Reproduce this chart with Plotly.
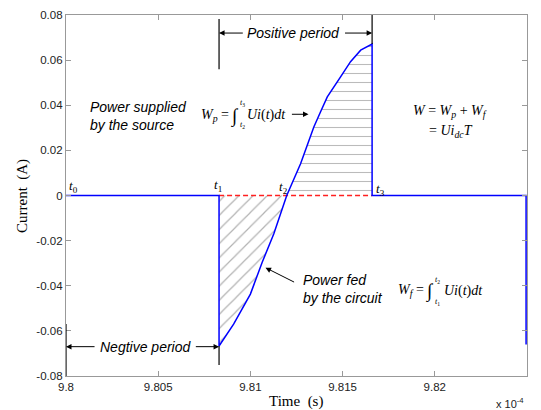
import plotly.graph_objects as go

# time axis is expressed in units of 1e-4 s
t0, t1, t2, t3, t_end = 9.800, 9.8083, 9.81197, 9.8166, 9.82495

# current during the negative half (t1 -> t2)
neg_time = [9.8083, 9.80873, 9.80909, 9.81000, 9.81064, 9.81127, 9.81172, 9.81197]
neg_current = [-0.0667, -0.0615, -0.0570, -0.0437, -0.0296, -0.0170, -0.0067, 0.0]

# current during the positive half (t2 -> t3)
pos_time = [9.81197, 9.81272, 9.81344, 9.81380, 9.81417, 9.81489, 9.81543, 9.81598, 9.8166]
pos_current = [0.0, 0.0141, 0.0304, 0.0370, 0.0437, 0.0526, 0.0593, 0.0644, 0.0671]

# complete current waveform
wave_time = [t0, t1] + neg_time + pos_time[1:] + [t3, t_end, t_end]
wave_current = [0.0, 0.0] + neg_current + pos_current[1:] + [0.0, 0.0, -0.066]

x_ticks = [9.8, 9.805, 9.81, 9.815, 9.82, 9.825]
x_ticklabels = ["9.8", "9.805", "9.81", "9.815", "9.82", "9.825"]
y_ticks = [-0.08, -0.06, -0.04, -0.02, 0, 0.02, 0.04, 0.06, 0.08]
y_ticklabels = ["-0.08", "-0.06", "-0.04", "-0.02", "0", "0.02", "0.04", "0.06", "0.08"]

fig = go.Figure()

# hatched area fed back by the circuit
fig.add_trace(go.Scatter(
    x=[t1] + neg_time, y=[0.0] + neg_current,
    mode="lines", line=dict(width=0), fill="tozeroy",
    fillcolor="rgba(0,0,0,0)",
    fillpattern=dict(shape="/", size=10, solidity=0.12,
                     fgcolor="#666666", bgcolor="rgba(0,0,0,0)"),
    hoverinfo="skip", showlegend=False))

# hatched area supplied by the source
fig.add_trace(go.Scatter(
    x=pos_time + [t3], y=pos_current + [0.0],
    mode="lines", line=dict(width=0), fill="tozeroy",
    fillcolor="rgba(0,0,0,0)",
    fillpattern=dict(shape="-", size=9, solidity=0.12,
                     fgcolor="#777777", bgcolor="rgba(0,0,0,0)"),
    hoverinfo="skip", showlegend=False))

# zero reference during conduction
fig.add_trace(go.Scatter(
    x=[t1, t3], y=[0.0, 0.0], mode="lines",
    line=dict(color="#ff2020", width=1.3, dash="5px,3px"),
    hoverinfo="skip", showlegend=False))

# the current waveform
fig.add_trace(go.Scatter(
    x=wave_time, y=wave_current, mode="lines",
    line=dict(color="#0000ff", width=1.5),
    showlegend=False))

sans = "Liberation Sans, Arial, sans-serif"
serif = "Liberation Serif, Times New Roman, serif"

annotations = []


def text(x, y, s, size=14, family=sans, xanchor="left", align="left", color="black"):
    annotations.append(dict(x=x, y=y, xref="x", yref="y", text=s, showarrow=False,
                            xanchor=xanchor, yanchor="middle", align=align,
                            font=dict(family=family, size=size, color=color)))


def arrow(x_from, y_from, x_to, y_to):
    annotations.append(dict(x=x_to, y=y_to, ax=x_from, ay=y_from, xref="x", yref="y",
                            axref="x", ayref="y", text="", showarrow=True,
                            arrowhead=2, arrowsize=1.1, arrowwidth=1,
                            arrowcolor="black", standoff=0, startstandoff=0))


# period labels
text(9.81236, 0.0720, "<i>Positive period</i>", size=14, xanchor="center")
arrow(9.80967, 0.0720, t1, 0.0720)
arrow(9.81505, 0.0720, t3, 0.0720)

text(9.80432, -0.0670, "<i>Negtive period</i>", size=14, xanchor="center")
arrow(9.80163, -0.0670, t0, -0.0670)
arrow(9.80696, -0.0670, t1, -0.0670)

# descriptions
text(9.80120, 0.0353, "<i>Power supplied<br>by the source</i>", size=14)
text(9.81277, -0.0416, "<i>Power fed<br>by the circuit</i>", size=14)
arrow(9.81245, -0.0387, 9.81082, -0.0320)

# energy integrals
text(9.80723, 0.0356, "<i>W</i><sub><i>p</i></sub> =", size=14, family=serif)
text(9.80918, 0.0352, "∫", size=19, family=serif, xanchor="center")
text(9.80935, 0.0410, "<i>t</i><sub>3</sub>", size=8, family=serif)
text(9.80935, 0.0312, "<i>t</i><sub>2</sub>", size=8, family=serif)
text(9.80973, 0.0356, "<i>Ui</i>(<i>t</i>)<i>dt</i>", size=14, family=serif)
arrow(9.81217, 0.0360, 9.81315, 0.0360)

text(9.81788, -0.0422, "<i>W</i><sub><i>f</i></sub> =", size=14, family=serif)
text(9.81973, -0.0426, "∫", size=19, family=serif, xanchor="center")
text(9.81990, -0.0376, "<i>t</i><sub>2</sub>", size=8, family=serif)
text(9.81990, -0.0472, "<i>t</i><sub>1</sub>", size=8, family=serif)
text(9.82038, -0.0422, "<i>Ui</i>(<i>t</i>)<i>dt</i>", size=14, family=serif)

text(9.81870, 0.0373, "<i>W</i> = <i>W</i><sub><i>p</i></sub> + <i>W</i><sub><i>f</i></sub>",
     size=14, family=serif)
text(9.81957, 0.0284, "= <i>Ui</i><sub><i>dc</i></sub><i>T</i>", size=14, family=serif)

# instants
text(9.80038, 0.0040, "<i>t</i><sub>0</sub>", size=13, family=serif, xanchor="center")
text(9.80826, 0.0044, "<i>t</i><sub>1</sub>", size=13, family=serif, xanchor="center")
text(9.81179, 0.0036, "<i>t</i><sub>2</sub>", size=13, family=serif, xanchor="center")
text(9.81707, 0.0027, "<i>t</i><sub>3</sub>", size=13, family=serif, xanchor="center")


def paper_text(x, y, s, size, family, angle=0, color="black"):
    annotations.append(dict(x=x, y=y, xref="paper", yref="paper", text=s,
                            showarrow=False, xanchor="center", yanchor="middle",
                            textangle=angle,
                            font=dict(family=family, size=size, color=color)))


# axis titles and exponent
paper_text(0.499, -0.072, "Time  (s)", 15, serif)
paper_text(-0.0954, 0.4986, "Current  (A)", 15, serif, angle=-90)
paper_text(0.963, -0.076, "x 10<sup>-4</sup>", 11, sans, color="#222222")

# period boundary markers
shapes = [
    dict(type="line", xref="x", yref="y", x0=t1, x1=t1, y0=0.0782, y1=0.0560,
         line=dict(color="black", width=1.2)),
    dict(type="line", xref="x", yref="y", x0=t3, x1=t3, y0=0.0800, y1=0.0671,
         line=dict(color="black", width=1.2)),
    dict(type="line", xref="x", yref="y", x0=t0, x1=t0, y0=-0.0569, y1=-0.0800,
         line=dict(color="black", width=1.2)),
    dict(type="line", xref="x", yref="y", x0=t1, x1=t1, y0=-0.0667, y1=-0.0751,
         line=dict(color="black", width=1.2)),
]

axis_common = dict(showgrid=False, zeroline=False, showline=True, linecolor="#999999",
                   linewidth=1.3, mirror="ticks", ticks="inside", ticklen=5,
                   tickcolor="#999999", tickwidth=1, automargin=False,
                   tickfont=dict(family=sans, size=11.5, color="#222222"))

fig.update_layout(
    width=541, height=410,
    margin=dict(l=66, r=14, t=15, b=34),
    paper_bgcolor="white", plot_bgcolor="white",
    xaxis=dict(range=[9.8, 9.825], tickvals=x_ticks, ticktext=x_ticklabels,
               **axis_common),
    yaxis=dict(range=[-0.08, 0.08], tickvals=y_ticks, ticktext=y_ticklabels,
               **axis_common),
    annotations=annotations,
    shapes=shapes,
)

fig.write_html("out.html")
